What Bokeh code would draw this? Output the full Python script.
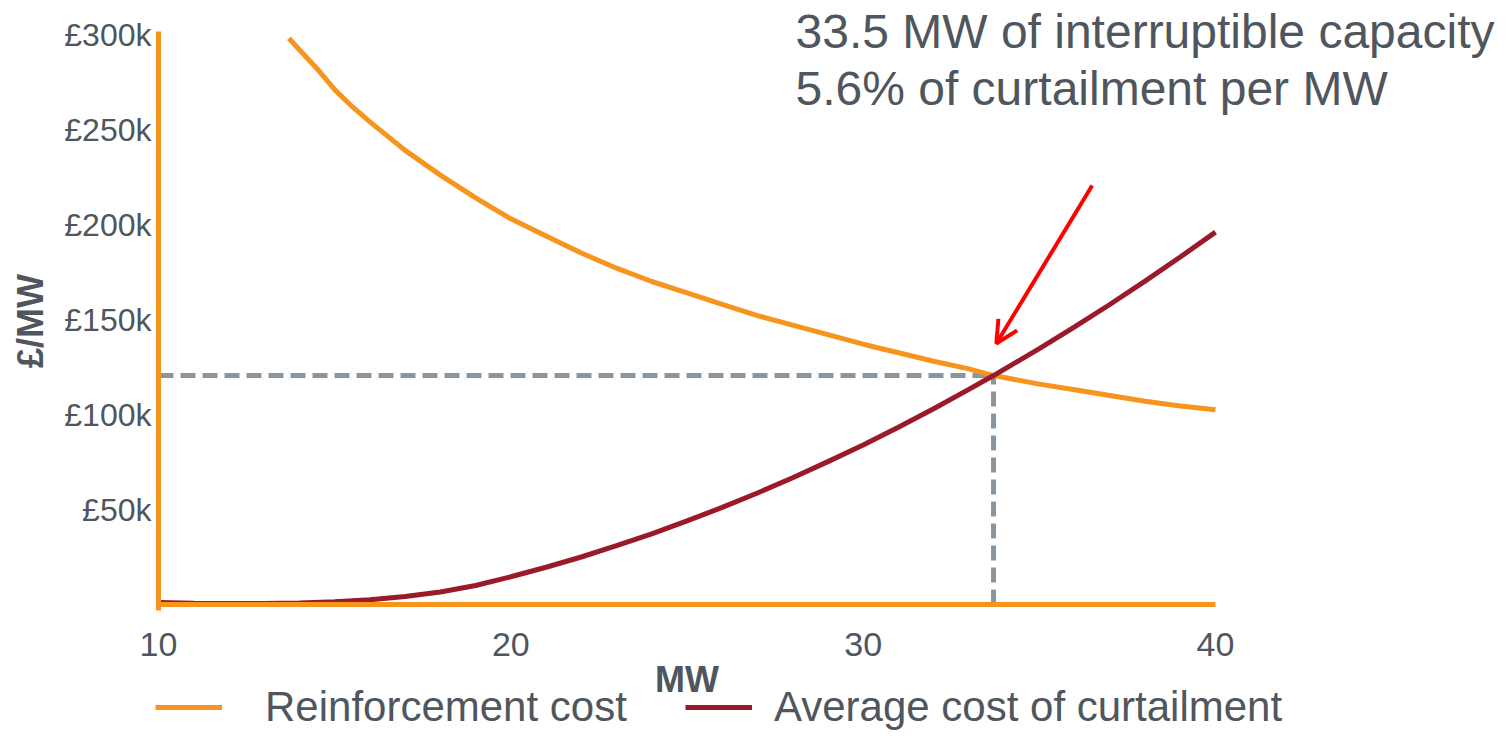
from bokeh.plotting import figure
from bokeh.models import (FixedTicker, Label, Legend, LegendItem, Arrow, OpenHead, Range1d)
from bokeh.embed import file_html
from bokeh.resources import INLINE

# ---------------- data ----------------
# Reinforcement cost, £k per MW
mw_reinf = [13.7, 14, 14.5, 15, 15.5, 16, 17, 18, 19, 20, 21, 22, 23, 24, 25, 26, 27, 28,
            29, 30, 31, 32, 33, 33.7, 35, 36, 37, 38, 39, 40]
cost_reinf_k = [298, 292, 282, 271, 262, 254, 239, 226, 214, 203, 194, 185, 177, 170, 164,
                158, 152, 147, 142, 137, 132.5, 128, 124, 120.5, 116, 113, 110, 107, 104.5, 102.5]

# Average cost of curtailment, £k per MW
mw_curt = [10, 11, 12, 13, 14, 15, 16, 17, 18, 19, 20, 21, 22, 23, 24, 25, 26, 27, 28, 29,
           30, 31, 32, 33, 33.7, 35, 36, 37, 38, 39, 40]
cost_curt_k = [1, 0.7, 0.5, 0.5, 0.8, 1.5, 2.5, 4.2, 6.6, 10, 14.6, 19.6, 25, 31, 37.2, 44,
               51.1, 58.7, 66.7, 75.2, 84, 93.3, 103, 113.2, 120.5, 134.7, 146.1, 157.9,
               170.2, 182.9, 196]

# crossing point (dashed guides)
cross_mw = 33.7
cross_cost_k = 120.5

# red arrow (start -> end), data units
arrow_start = (36.5, 220.5)
arrow_end = (33.78, 137.4)

# axis extents
x_axis_bounds = (10, 40)
y_axis_bounds_k = (-3.2, 301.6)

x_ticks = [10, 20, 30, 40]
y_ticks_k = [50, 100, 150, 200, 250, 300]
y_tick_labels = ["£50k", "£100k", "£150k", "£200k", "£250k", "£300k"]

series_names = ["Reinforcement cost", "Average cost of curtailment"]
note_lines = ["33.5 MW of interruptible capacity", "5.6% of curtailment per MW"]

# ---------------- styling ----------------
ORANGE = "#f7941d"
DARKRED = "#9b1a2a"
GREY_TXT = "#4f565d"
DASH_GREY = "#8a959d"
FONT = "Liberation Sans"

W, H = 1496, 730
PX_PER_MW = (1215 - 158) / 30.0
PX_PER_K = 570 / 300.0
X0_PX, Y0_PX = 158, 604           # pixel position of (10 MW, £0)

K = 1000
cost_reinf = [v * K for v in cost_reinf_k]
cost_curt = [v * K for v in cost_curt_k]

x_range = Range1d(10 - X0_PX / PX_PER_MW, 10 + (W - X0_PX) / PX_PER_MW)
y_range = Range1d(-(H - Y0_PX) / PX_PER_K * K, Y0_PX / PX_PER_K * K)

p = figure(width=W, height=H, output_backend="svg", toolbar_location=None,
           x_range=x_range, y_range=y_range, min_border=0)
p.outline_line_color = None
p.xgrid.visible = False
p.ygrid.visible = False
p.background_fill_color = "white"
p.border_fill_color = "white"

for ax in (p.xaxis[0], p.yaxis[0]):
    ax.axis_line_color = ORANGE
    ax.axis_line_width = 5
    ax.major_tick_line_color = None
    ax.minor_tick_line_color = None
    ax.major_tick_out = 0
    ax.major_tick_in = 0
    ax.major_label_text_color = GREY_TXT
    ax.major_label_text_font = FONT
    ax.axis_label_text_font = FONT
    ax.axis_label_text_font_style = "bold"
    ax.axis_label_text_color = GREY_TXT
    ax.axis_label_text_font_size = "36px"

p.xaxis.fixed_location = 0
p.xaxis.bounds = x_axis_bounds
p.xaxis.ticker = FixedTicker(ticks=x_ticks)
p.xaxis.major_label_text_font_size = "34px"
p.xaxis.major_label_standoff = 28
p.xaxis.axis_label = "MW"
p.xaxis.axis_label_standoff = 0

p.yaxis.fixed_location = 10
p.yaxis.bounds = (y_axis_bounds_k[0] * K, y_axis_bounds_k[1] * K)
p.yaxis.ticker = FixedTicker(ticks=[v * K for v in y_ticks_k])
p.yaxis.major_label_overrides = {v * K: lab for v, lab in zip(y_ticks_k, y_tick_labels)}
p.yaxis.major_label_text_font_size = "32px"
p.yaxis.major_label_standoff = 7
p.yaxis.axis_label = "£/MW"
p.yaxis.axis_label_standoff = 10

# dashed guides to the crossing point
p.segment(x0=[10, cross_mw], y0=[cross_cost_k * K, 0], x1=[cross_mw, cross_mw],
          y1=[cross_cost_k * K, cross_cost_k * K],
          line_color=DASH_GREY, line_width=5, line_dash="15 7")

r_reinf = p.line(mw_reinf, cost_reinf, line_color=ORANGE, line_width=5)
r_curt = p.line(mw_curt, cost_curt, line_color=DARKRED, line_width=5)

arrow = Arrow(end=OpenHead(line_color="red", line_width=4, size=22),
              x_start=arrow_start[0], y_start=arrow_start[1] * K,
              x_end=arrow_end[0], y_end=arrow_end[1] * K,
              line_color="red", line_width=4)
p.add_layout(arrow)

for txt, yy in zip(note_lines, [H - 31, H - 88]):
    p.add_layout(Label(x=795, y=yy, x_units="screen", y_units="screen", text=txt,
                       text_font=FONT, text_font_size="48px", text_color=GREY_TXT,
                       text_baseline="alphabetic", text_align="left"))

def make_legend(name, rend, loc, standoff):
    return Legend(items=[LegendItem(label=name, renderers=[rend])], location=loc,
                  orientation="horizontal", label_text_font=FONT, label_text_font_size="42px",
                  label_text_color=GREY_TXT, glyph_width=67, glyph_height=40,
                  label_standoff=standoff, padding=0, margin=0, spacing=0,
                  border_line_color=None, background_fill_alpha=0)

p.add_layout(make_legend(series_names[0], r_reinf, (155, -1), 43))
p.add_layout(make_legend(series_names[1], r_curt, (685, -1), 22))

open("out.html", "w").write(file_html(p, INLINE))
